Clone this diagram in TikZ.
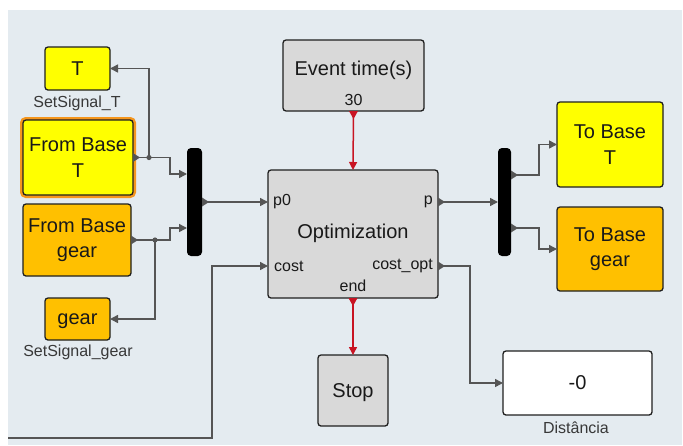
\documentclass[tikz,border=0pt]{standalone}
\usepackage{fontspec}
\setmainfont{Liberation Sans}
\usetikzlibrary{arrows.meta}
\definecolor{bgc}{RGB}{228,235,240}
\definecolor{yel}{RGB}{255,255,0}
\definecolor{org}{RGB}{255,192,0}
\definecolor{glow}{RGB}{245,150,30}
\definecolor{gry}{RGB}{217,217,217}
\definecolor{wirec}{RGB}{85,85,85}
\definecolor{redc}{RGB}{200,20,35}
\definecolor{txt}{RGB}{25,25,25}
\newcommand\portR[1]{\fill[wirec] (#1) ++(0,-4.5) -- ++(7,4.5) -- ++(-7,4.5) -- cycle;}
\newcommand\portD[1]{\fill[redc] (#1) ++(-4.5,0) -- ++(4.5,8) -- ++(4.5,-8) -- cycle;}
\begin{document}
\begin{tikzpicture}[x=1pt,y=-1pt,
  blk/.style={draw=black!88, line width=1.3pt, rounded corners=3pt, anchor=north west,
    inner sep=0pt, outer sep=0pt, align=center, font=\fontsize{20}{25.5}\selectfont, text=txt},
  big/.style={font=\fontsize{20}{25}\selectfont, text=txt, inner sep=0pt},
  small/.style={font=\fontsize{16}{19}\selectfont, text=txt, inner sep=0pt},
  captxt/.style={font=\fontsize{16}{19}\selectfont, text=black!78, inner sep=0pt},
  mux/.style={fill=black, rounded corners=4pt, anchor=north west, inner sep=0pt, outer sep=0pt},
  wire/.style={draw=wirec, line width=1.5pt, -{Triangle[length=8pt,width=8pt]}},
  plain/.style={draw=wirec, line width=1.5pt},
  redw/.style={draw=redc, line width=1.5pt, -{Triangle[length=8pt,width=8pt]}}
]
\useasboundingbox (0,0) rectangle (683,445);
\fill[white] (0,0) rectangle (683,445);
\fill[bgc] (8,10) rectangle (682,445);

% blocks
\node[blk, fill=yel, minimum width=65pt, minimum height=43pt] (sigT) at (45,47) {T};
\node[captxt] (labT) at (77,103) {SetSignal\_T};
\node[blk, fill=yel, minimum width=110pt, minimum height=75pt,
      preaction={draw=glow, line width=6pt}] (fbT) at (23,120) {From Base\\T};
\node[blk, fill=org, minimum width=108pt, minimum height=72pt] (fbG) at (23,204) {From Base\\gear};
\node[blk, fill=org, minimum width=65pt, minimum height=42pt, text depth=0pt] (sigG) at (45,298) {gear};
\node[captxt] (labG) at (78,352) {SetSignal\_gear};

\node[mux, minimum width=15pt, minimum height=108pt] (muxL) at (187,148) {};
\node[blk, fill=gry, minimum width=141pt, minimum height=71pt] (ev) at (283,40) {};
\node[big] (evt) at (353.5,70.5) {Event time(s)};
\node[small] (evn) at (353.5,100) {30};

\node[blk, fill=gry, minimum width=170pt, minimum height=128pt] (opt) at (268,170) {};
\node[big] (optt) at (353,233) {Optimization};
\node[small, anchor=west] (lp0) at (273,202) {p0};
\node[small, anchor=west] (lcost) at (274,266) {cost};
\node[small, anchor=east] (lp) at (433,202) {p};
\node[small, anchor=east] (lco) at (433,266) {cost\_opt};
\node[small] (lend) at (353,286) {end};

\node[blk, fill=gry, minimum width=70pt, minimum height=71pt, text depth=0pt] (stop) at (318,355) {Stop};

\node[mux, minimum width=13pt, minimum height=108pt] (muxR) at (498,148) {};
\node[blk, fill=yel, minimum width=106pt, minimum height=85pt] (tbT) at (557,102) {To Base\\T};
\node[blk, fill=org, minimum width=106pt, minimum height=84pt] (tbG) at (557,207) {To Base\\gear};

\node[blk, fill=white, minimum width=149pt, minimum height=64pt] (dist) at (503,351) {-0};
\node[captxt] (labD) at (576,428) {Distância};

% port coordinates
\coordinate (p0) at ([yshift=32pt]opt.west);
\coordinate (costin) at ([yshift=-32pt]opt.west);
\coordinate (pout) at ([yshift=32pt]opt.east);
\coordinate (costout) at ([yshift=-32pt]opt.east);
\coordinate (mL1) at ([yshift=28pt]muxL.west);
\coordinate (mL2) at ([yshift=-26pt]muxL.west);
\coordinate (mR1) at ([yshift=27pt]muxR.east);
\coordinate (mR2) at ([yshift=-26pt]muxR.east);
\coordinate (J1) at ([xshift=16pt]fbT.east);
\coordinate (J2) at ([xshift=24pt]fbG.east);
\coordinate (cin) at (8,438);

% wires
\draw[plain] (fbT.east) -- (J1);
\draw[wire] (J1) |- (sigT);
\draw[wire] (J1) -- ++(21,0) |- (mL1);
\draw[plain] (fbG.east) -- (J2);
\draw[wire] (J2) |- (sigG);
\draw[wire] (J2) -- ++(15,0) |- (mL2);
\draw[wire] (muxL.east) -- (p0);
\draw[wire] (cin) -- ++(204,0) |- (costin);
\draw[redw] (ev.south) -- (opt.north);
\draw[redw] (opt.south) -- (stop.north);
\draw[wire] (pout) -- (muxR.west |- pout);
\draw[wire] (mR1) -- ++(28,0) |- (tbT);
\draw[wire] (mR2) -- ++(28,0) |- (tbG);
\draw[wire] (costout) -- ++(32,0) |- (dist);

\fill[wirec] (J1) circle (2.6pt);
\fill[wirec] (J2) circle (2.6pt);

% port markers
\portR{fbT.east}
\portR{fbG.east}
\portR{muxL.east}
\portR{pout}
\portR{costout}
\portR{mR1}
\portR{mR2}
\portD{ev.south}
\portD{opt.south}
\end{tikzpicture}
\end{document}
